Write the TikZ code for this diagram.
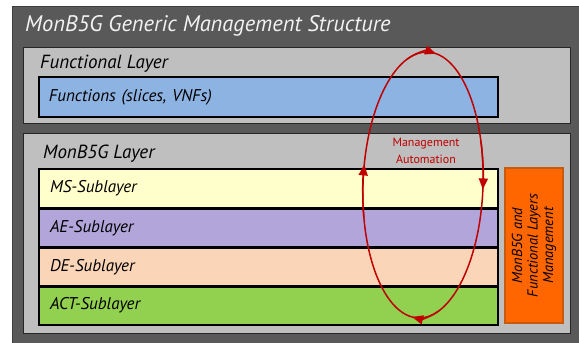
\documentclass[tikz,border=0pt]{standalone}
\usepackage{fontspec}
\setmainfont{PT Sans}
\usetikzlibrary{arrows.meta}
\definecolor{outerfill}{HTML}{595959}
\definecolor{outerline}{HTML}{3F3F3F}
\definecolor{layerfill}{HTML}{BFBFBF}
\definecolor{layerline}{HTML}{262626}
\definecolor{bluefill}{HTML}{8DB3E2}
\definecolor{msfill}{HTML}{FFFFCC}
\definecolor{aefill}{HTML}{B1A5DA}
\definecolor{defill}{HTML}{FBD5B8}
\definecolor{actfill}{HTML}{92D050}
\definecolor{orangefill}{HTML}{FF6600}
\definecolor{orangeline}{HTML}{C55A11}
\definecolor{loopred}{HTML}{C00000}
\tikzset{
  layerbox/.style={draw=layerline, fill=layerfill, line width=1pt},
  subbox/.style={draw=black, line width=2pt, minimum width=459pt, anchor=north west,
     inner sep=0pt, text width=449pt, align=left, font=\itshape\fontsize{17}{19}\selectfont},
  headtext/.style={anchor=west, inner sep=0pt, font=\itshape\fontsize{19}{21}\selectfont},
  loop/.style={draw=loopred, line width=1.5pt},
  looptip/.style={loop, -{Triangle[length=11pt,width=9pt]}},
}
\begin{document}
\begin{tikzpicture}[x=1pt,y=-1pt]
\useasboundingbox (0,0) rectangle (579,343);
% outer box
\path[fill=outerfill, draw=outerline, line width=1pt] (12,6) rectangle (600,360);
\node[headtext, text=white!95!black, font=\itshape\fontsize{22.5}{24}\selectfont] (title) at (25,26) {MonB5G Generic Management Structure};
% functional layer
\path[layerbox] (23,47) rectangle (570,123);
\node[headtext] (funclabel) at (40,64) {Functional Layer};
\node[subbox, fill=bluefill, minimum height=40pt] (functions) at (38,76) {\hspace*{5pt}Functions (slices, VNFs)};
% MonB5G layer
\path[layerbox] (23,133) rectangle (570,333);
\node[headtext] (monlabel) at (43,154) {MonB5G Layer};
\node[subbox, fill=msfill, minimum height=38.5pt] (ms) at (38,168) {\hspace*{6pt}MS-Sublayer};
\node[subbox, fill=aefill, minimum height=38.5pt] (ae) at (38,207.5) {\hspace*{6pt}AE-Sublayer};
\node[subbox, fill=defill, minimum height=38.5pt] (de) at (38,246.5) {\hspace*{6pt}DE-Sublayer};
\node[subbox, fill=actfill, minimum height=38pt] (act) at (38,285.5) {\hspace*{6pt}ACT-Sublayer};
% orange management box
\node[draw=orangeline, fill=orangefill, line width=1.5pt, minimum width=155pt, minimum height=58pt,
      inner sep=0pt, rotate=90, align=center, font=\itshape\fontsize{14.5}{15.5}\selectfont] (mgmt) at (534,245.5)
      {MonB5G and\\Functional Layers\\Management};
% management automation loop
\coordinate (c) at (423,185);
\begin{scope}[rotate around={-2:(c)}]
\draw[loop] (c) ++(0,-133) arc[start angle=90, end angle=-270, x radius=60pt, y radius=133pt];
\draw[looptip] (c) ++({60*cos(110)},{-133*sin(110)}) arc[start angle=110, end angle=82, x radius=60pt, y radius=133pt];
\draw[looptip] (c) ++({60*cos(20)},{-133*sin(20)}) arc[start angle=20, end angle=-1, x radius=60pt, y radius=133pt];
\draw[looptip] (c) ++({60*cos(-70)},{-133*sin(-70)}) arc[start angle=-70, end angle=-96, x radius=60pt, y radius=133pt];
\draw[looptip] (c) ++({60*cos(-165)},{-133*sin(-165)}) arc[start angle=-165, end angle=-188, x radius=60pt, y radius=133pt];
\end{scope}
\node[text=loopred, align=center, inner sep=0pt, font=\fontsize{12}{16.5}\selectfont] (auto) at (426,151) {Management\\Automation};
\end{tikzpicture}
\end{document}
